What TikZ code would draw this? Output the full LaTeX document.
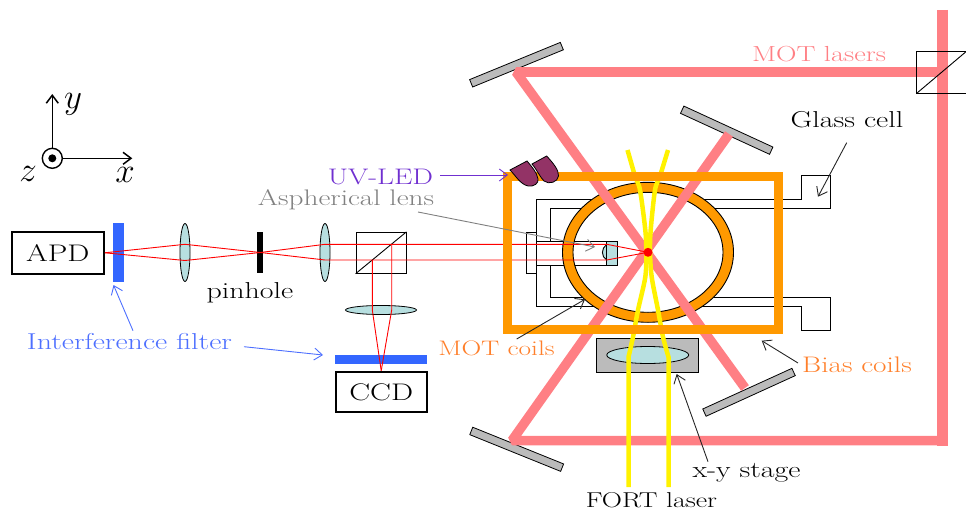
\documentclass[tikz,border=0pt]{standalone}
\usepackage{fix-cm}
\usepackage{fontspec}
\setmainfont{Latin Modern Roman}[FakeStretch=1.3]
\usetikzlibrary{shapes.geometric, positioning, arrows.meta}
\definecolor{motpink}{HTML}{FF7F84}
\definecolor{coilorange}{HTML}{FF9900}
\definecolor{textorange}{HTML}{FF7F2A}
\definecolor{filterblue}{HTML}{3366FF}
\definecolor{labelblue}{HTML}{4D6FFF}
\definecolor{lensblue}{HTML}{B7DFE0}
\definecolor{mirrorgray}{HTML}{BBBBBB}
\definecolor{ledpurple}{HTML}{933366}
\definecolor{uvviolet}{HTML}{7030D0}
\begin{document}
\begin{tikzpicture}[x=1pt, y=-1pt, font=\fontsize{23}{26}\selectfont]
        \tikzstyle{detector} = [rectangle, draw, line width=2pt, inner sep=0pt, font=\fontsize{24}{26}\selectfont]
        \tikzstyle{filter} = [rectangle, fill=filterblue, inner sep=0pt]
        \tikzstyle{lens} = [ellipse, draw, fill=lensblue, inner sep=0pt, line width=0.8pt]
        \tikzstyle{mirror} = [rectangle, draw, fill=mirrorgray, inner sep=0pt, minimum width=98pt, minimum height=8pt, line width=0.8pt]
        \tikzstyle{label} = [inner sep=0pt]
        \tikzstyle{axis} = [inner sep=0pt, font=\fontsize{35}{37}\selectfont]
        \tikzstyle{ray} = [red, line width=0.9pt]
        \tikzstyle{mot} = [motpink, line width=9.5pt, line join=bevel]
        \tikzstyle{fort} = [yellow, line width=4.5pt]
        \tikzstyle{line} = [-{Straight Barb[length=8pt,width=12pt]}, line width=0.9pt]
        \tikzstyle{thin} = [draw, line width=0.9pt]
        \useasboundingbox (0,0) rectangle (966,511);

        % detection arm
        \node (apd) at (57.8,252.8) [detector, minimum width=92pt, minimum height=42pt] {APD};
        \node (fila) at (118.7,252.5) [filter, minimum width=10.7pt, minimum height=58.5pt] {};
        \node (lena) at (185,252.5) [lens, minimum width=10pt, minimum height=58pt] {};
        \node (pin) at (260.3,252.5) [rectangle, fill=black, inner sep=0pt, minimum width=6pt, minimum height=41pt] {};
        \node (lenb) at (325,252.5) [lens, minimum width=10pt, minimum height=58pt] {};
        \node (bs) at (381,252.8) [rectangle, thin, inner sep=0pt, minimum width=50pt, minimum height=41pt] {};
        \node (lenc) at (381,310) [lens, minimum width=71pt, minimum height=9pt] {};
        \node (filc) at (381,359.7) [filter, minimum width=92pt, minimum height=9.3pt] {};
        \node (ccd) at (381.2,392) [detector, minimum width=91pt, minimum height=40.6pt] {CCD};
        \draw [thin] (bs.south west) -- (bs.north east);

        \coordinate (foc) at (648,252.3);
        \coordinate (bsa) at (391.7,244.3);
        \coordinate (bsb) at (372.3,260);
        \coordinate (asa) at (606.7,244.3);
        \coordinate (asb) at (606.7,260);

        % glass cell
        \draw [thin] (536.7,232.7) -- (536.7,199.3) -- (801.7,199.3) -- (801.7,175.5) -- (830,175.5) -- (830,208.3) -- (550,208.3) -- (550,241);
        \draw [thin] (536.7,273.3) -- (536.7,306.7) -- (801.7,306.7) -- (801.7,330) -- (830,330) -- (830,297.7) -- (550,297.7) -- (550,265);
        \draw [thin] (526,232.7) rectangle (536.7,273.3);
        \fill [white] (foc) ellipse [x radius=80, y radius=65];
        \fill [lensblue] (606.7,241) rectangle (617.7,265);
        \draw [thin, fill=lensblue] (606.7,244.5) .. controls (601,248) and (601,257) .. (606.7,260);
        \draw [thin] (536.7,241) -- (617.7,241) -- (617.7,265) -- (536.7,265);
        \draw [thin] (606.7,241) -- (606.7,265);

        % MOT coils, the ring
        \draw [fill=coilorange, even odd rule, line width=0.9pt] (foc) ellipse [x radius=85.5, y radius=70] (foc) ellipse [x radius=75, y radius=60];

        % mirrors
        \node (mira) at (516.5,64.7) [mirror, rotate=22.3] {};
        \node (mirb) at (726.7,130.2) [mirror, rotate=-24.7] {};
        \node (mirc) at (749,392.3) [mirror, rotate=24.5] {};
        \node (mird) at (516.7,449.3) [mirror, rotate=-22] {};

        % stage under the cell
        \node (stg) at (647.5,355.3) [rectangle, thin, fill=mirrorgray, inner sep=0pt, minimum width=101.6pt, minimum height=34pt] {};
        \node (lend) at (647.7,355) [lens, minimum width=82pt, minimum height=17pt] {};

        % lasers
        \draw [mot, line width=11pt] (942.5,10) -- (942.5,445.5);
        \draw [mot] (947,440.5) -- (512,440.5) -- (729,134);
        \draw [mot] (937,72) -- (516,72) -- (745,388);
        \draw [fort] plot [smooth] coordinates {(627.5,150) (635,176) (640,190) (645.3,230) (646.3,252) (645.3,277) (638,310) (633,337) (628.5,357)} -- (628.5,487);
        \draw [fort] plot [smooth] coordinates {(668,150) (660,176) (655,190) (650.7,230) (650,252) (651.7,277) (658,310) (663,337) (668.5,357)} -- (668.5,487);

        % rays
        \draw [ray] (apd.east) -- (185,244.3) -- (pin.center) -- (325,260) -- (asb) -- (foc);
        \draw [ray] (apd.east) -- (185,260.5) -- (pin.center) -- (325,244.3) -- (asa) -- (foc);
        \draw [ray] (bsa) -- (391.7,310) -- (ccd.north);
        \draw [ray] (bsb) -- (372.3,310) -- (ccd.north);
        \fill [red] (foc) circle (4.5);

        % big coil frame and the LEDs
        \draw [coilorange, line width=9pt] (507.5,176.5) rectangle (778.5,329.5);
        \draw [fill=ledpurple, line width=0.8pt] (532,164) -- (546.7,156) .. controls (553,163) and (559,170) .. (558.5,176) .. controls (558,182) and (549,185) .. (544,181) .. controls (540,177) and (537,170) .. cycle;
        \draw [fill=ledpurple, line width=0.8pt] (510,170) .. controls (516,176) and (520,184) .. (528,186) .. controls (534,187) and (539,183) .. (538,179) .. controls (537,172) and (531,166) .. (527,161) -- cycle;

        % beam splitter for the MOT lasers
        \draw [thin] (968,51.7) -- (916.7,51.7) -- (916.7,93.3) -- (968,93.3);
        \draw [thin] (916.7,93.3) -- (968,50);

        % axes
        \node (org) at (52.3,158.3) [circle, draw, line width=1.4pt, minimum size=20pt, inner sep=0pt] {};
        \fill (org.center) circle (4);
        \coordinate (yend) at (52.3,94);
        \coordinate (xend) at (132.3,158.3);
        \draw [line, line width=1.5pt] (org) -- (yend);
        \draw [line, line width=1.5pt] (org) -- (xend);
        \node (lbly) at (73,104) [axis] {$y$};
        \node (lblx) at (125,175) [axis] {$x$};
        \node (lblz) at (28,174) [axis] {$z$};

        % labels
        \node (lmot) at (819,54) [label, motpink, font=\fontsize{21.8}{24}\selectfont] {MOT lasers};
        \node (lgls) at (847,120) [label] {Glass cell};
        \node (luv) at (380.5,177) [label, uvviolet, font=\fontsize{22.5}{24}\selectfont] {UV-LED};
        \node (lasp) at (346,200) [label, gray, font=\fontsize{22.5}{24}\selectfont] {Aspherical lens};
        \node (lpin) at (250,292.7) [label] {pinhole};
        \node (lifl) at (129.5,341.5) [label, labelblue] {Interference filter};
        \node (lcoi) at (496.5,348) [label, textorange, font=\fontsize{21}{24}\selectfont] {MOT coils};
        \node (lbia) at (857,365) [label, textorange, font=\fontsize{22.5}{24}\selectfont] {Bias coils};
        \node (lstg) at (746.5,473) [label] {x-y stage};
        \node (lfrt) at (651.5,500.5) [label, font=\fontsize{21.5}{24}\selectfont] {FORT laser};

        \coordinate (uvs) at (440,175);
        \draw [line, uvviolet] (uvs) -- (508,175);
        \draw [line, gray] (418,212) -- (595,247);
        \draw [line, labelblue] (133,330.7) -- (113.5,285);
        \draw [line, labelblue] (244,346.7) -- (323,355);
        \draw [line, black!85] (516.7,339) -- (585,299.3);
        \draw [line, black!85] (798,363) -- (761.7,340.7);
        \draw [line, black!85] (708,461.7) -- (676.7,374);
        \draw [line, black!85] (846.7,142.7) -- (818,196.7);
\end{tikzpicture}
\end{document}
